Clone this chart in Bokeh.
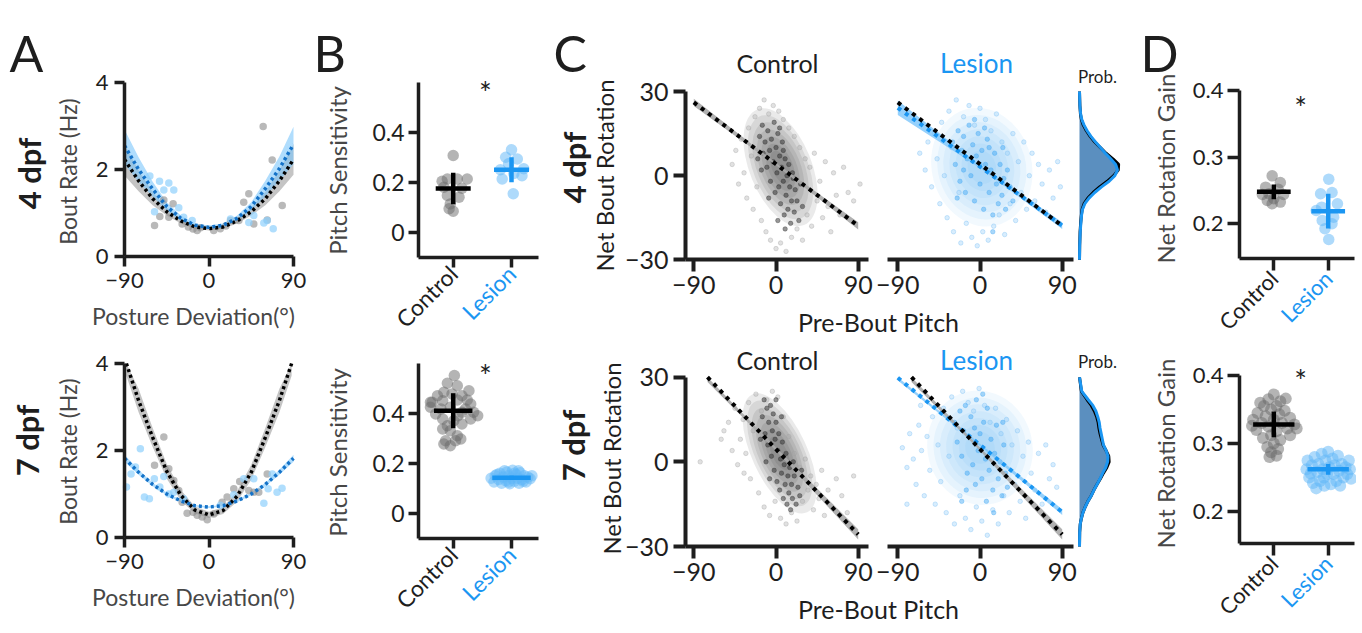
import math
from bokeh.plotting import figure
from bokeh.models import Range1d, LinearAxis, FixedTicker, Label
from bokeh.embed import file_html
from bokeh.resources import INLINE

FONT = "Lato"
INK = "#1e1e1e"
GRAYTXT = "#474747"
BLUE = "#1b96f2"
BLUE_DARK = "#1472c8"

# ------------------------------------------------------------------ data
# Panel A : bout rate vs posture deviation
pd_angles = [-90, -75, -60, -45, -30, -15, 0, 15, 30, 45, 60, 75, 90]
a4_ctrl_fit = [2.23, 1.74, 1.33, 1.03, 0.82, 0.68, 0.64, 0.68, 0.82, 1.03, 1.33, 1.74, 2.23]
a4_ctrl_lo = [1.86, 1.50, 1.18, 0.94, 0.76, 0.64, 0.60, 0.64, 0.76, 0.94, 1.18, 1.50, 1.88]
a4_ctrl_hi = [2.58, 1.98, 1.48, 1.12, 0.88, 0.72, 0.68, 0.72, 0.88, 1.12, 1.48, 1.98, 2.58]
a4_les_fit = [2.55, 2.00, 1.55, 1.15, 0.88, 0.72, 0.67, 0.72, 0.88, 1.15, 1.56, 2.02, 2.58]
a4_les_lo = [2.12, 1.72, 1.38, 1.05, 0.82, 0.68, 0.63, 0.68, 0.82, 1.05, 1.38, 1.74, 2.12]
a4_les_hi = [2.92, 2.28, 1.72, 1.25, 0.94, 0.76, 0.71, 0.76, 0.94, 1.25, 1.74, 2.30, 2.98]
a4_ctrl_x = [-58, -52.4, -48.1, -42.8, -38.2, -28.6, -22, -17, -12.6, -9, 5, 12, 18, 22.9, 31.8, 37, 42.4, 47.7, 57.7, 62, 67.3, 78]
a4_ctrl_y = [0.71, 0.92, 1.30, 0.90, 1.21, 0.75, 0.68, 0.63, 0.60, 0.66, 0.60, 0.64, 0.70, 0.83, 0.83, 1.25, 1.44, 0.75, 2.99, 0.84, 2.22, 1.17]
a4_les_x = [-63, -58, -52.7, -48.1, -42.8, -37.5, -32.2, -27, -17.9, 22.9, 42.4, 47.7, 58.4, 62, 68.4]
a4_les_y = [1.85, 1.03, 1.73, 1.53, 1.69, 1.53, 1.12, 0.90, 0.83, 0.86, 0.78, 0.94, 0.77, 0.83, 0.64]

a7_ctrl_angles = [-88, -75, -60, -45, -30, -15, 0, 15, 30, 45, 60, 75, 88]
a7_ctrl_fit = [4.0, 3.15, 2.30, 1.52, 0.97, 0.63, 0.52, 0.62, 0.95, 1.50, 2.30, 3.15, 4.0]
a7_ctrl_lo = [3.72, 2.88, 2.08, 1.35, 0.85, 0.55, 0.45, 0.54, 0.83, 1.33, 2.08, 2.88, 3.72]
a7_ctrl_hi = [4.0, 3.42, 2.52, 1.69, 1.09, 0.71, 0.59, 0.70, 1.07, 1.67, 2.52, 3.42, 4.0]
a7_les_fit = [1.82, 1.50, 1.22, 1.00, 0.84, 0.73, 0.70, 0.73, 0.84, 1.00, 1.22, 1.50, 1.82]
a7_les_lo = [1.74, 1.44, 1.18, 0.97, 0.81, 0.71, 0.68, 0.71, 0.81, 0.97, 1.18, 1.44, 1.74]
a7_les_hi = [1.90, 1.56, 1.26, 1.03, 0.87, 0.75, 0.72, 0.75, 0.87, 1.03, 1.26, 1.56, 1.90]
a7_ctrl_x = [-48.1, -58, -42.8, -37.5, -32.2, -28.6, -23.3, -17, -12.6, -7.3, -1.9, 5.1, 14, 19.3, 26.4, 32.7, 42.4, 47.7, 53, 62]
a7_ctrl_y = [2.31, 1.66, 1.58, 1.31, 1.08, 0.81, 0.56, 0.58, 0.51, 0.47, 0.41, 0.54, 0.81, 0.93, 1.12, 1.29, 1.08, 1.04, 1.04, 1.46]
a7_les_x = [-87.9, -83, -78.4, -73.1, -68.8, -63.5, -58.2, -52.4, -48.1, -42.8, -37.5, -27, 12.3, 26.4, 37, 47.7, 58.4, 63, 72.5, 77.8, 67.4]
a7_les_y = [1.16, 1.46, 1.62, 2.04, 0.93, 0.89, 1.35, 1.16, 1.40, 1.0, 1.04, 0.89, 0.74, 0.98, 1.35, 1.35, 0.79, 1.12, 1.04, 1.13, 1.46]

# Panel B : pitch sensitivity
groups = [1, 2]
group_names = ["Control", "Lesion"]
b4_ctrl_jit = [1.0, 0.81, 0.90, 1.07, 1.24, 0.84, 1.15, 0.90, 1.10, 0.95, 1.0, 0.93]
b4_ctrl_val = [0.307, 0.204, 0.213, 0.213, 0.213, 0.18, 0.176, 0.147, 0.14, 0.113, 0.084, 0.094]
b4_les_jit = [2.0, 1.90, 2.10, 1.95, 1.81, 2.21, 1.84, 2.18, 2.03, 2.04]
b4_les_val = [0.33, 0.30, 0.293, 0.274, 0.25, 0.254, 0.213, 0.226, 0.154, 0.235]
b4_mean = [0.175, 0.25]
b4_sd = [0.063, 0.05]
b7_ctrl_jit = [1.02, 0.90, 1.07, 1.27, 0.73, 0.84, 1.15, 0.64, 0.82, 1.07, 1.30, 0.61, 0.95, 1.21, 1.35, 0.70, 1.08, 0.82,
               1.01, 1.30, 0.90, 1.15, 0.95, 1.07, 0.87, 1.04, 0.95, 0.84, 1.13, 0.79, 1.24, 0.98, 0.82, 1.15, 1.42, 0.61]
b7_ctrl_val = [0.551, 0.52, 0.51, 0.49, 0.47, 0.484, 0.47, 0.444, 0.45, 0.453, 0.437, 0.424, 0.424, 0.417, 0.404, 0.397,
               0.39, 0.377, 0.37, 0.377, 0.35, 0.357, 0.33, 0.31, 0.29, 0.29, 0.27, 0.277, 0.297, 0.417, 0.453, 0.477,
               0.337, 0.404, 0.39, 0.444]
b7_les_jit = [1.65, 1.70, 1.72, 1.78, 1.80, 1.83, 1.86, 1.90, 1.92, 1.95, 1.97, 2.0, 2.02, 2.05, 2.08, 2.10, 2.13, 2.15,
              2.18, 2.22, 2.25, 2.28, 2.32, 2.35, 1.75, 1.88, 2.12, 1.95, 2.05, 2.2]
b7_les_val = [0.14, 0.125, 0.15, 0.135, 0.16, 0.12, 0.145, 0.13, 0.165, 0.15, 0.118, 0.14, 0.172, 0.128, 0.155, 0.14,
              0.12, 0.162, 0.135, 0.15, 0.125, 0.145, 0.138, 0.15, 0.155, 0.17, 0.17, 0.125, 0.16, 0.128]
b7_mean = [0.41, 0.142]
b7_sd = [0.07, 0.008]

# Panel C : net bout rotation vs pre-bout pitch
c_fit_x = [-90, 0, 90]
c4_ctrl_fit = [26.1, 4.1, -17.9]
c4_ctrl_lo = [24.8, 3.7, -19.2]
c4_ctrl_hi = [27.4, 4.5, -16.6]
c4_les_fit = [24.2, 3.2, -17.8]
c4_les_lo = [21.6, 2.7, -19.0]
c4_les_hi = [26.8, 3.7, -16.6]
c7_ctrl_fit_x = [-75, 0, 90]
c7_ctrl_fit = [30.0, 4.5, -25.7]
c7_ctrl_lo = [28.3, 3.9, -27.5]
c7_ctrl_hi = [30.0, 5.1, -23.9]
c7_les_fit = [29.8, 6.0, -17.8]
c7_les_lo = [28.8, 5.6, -18.8]
c7_les_hi = [30.0, 6.4, -16.8]

c4_ctrl_out_x = [-48, -44, -41, -38, -35, -32, -30, -27, -25, -23, -21, -18, -16, -13, -11, -8, -6, -3, 0, 3, 5, 8, 11, 14,
                 17, 20, 23, 26, 29, 32, 34, 37, 39, 42, 45, 48, 51, 54, 57, 60, 63, 66, 70, 74, 79, 85, 92]
c4_ctrl_out_y = [4, 9, -3, 13, 1, -8, 17, 7, -12, 21, -4, 24, -16, 27, -20, 22, -23, 25, -26, 23, -24, 20, -27, 17, -22,
                 14, -19, 10, -23, 6, -14, 3, -18, 8, -9, -2, -15, 5, -11, -20, 1, -7, -14, 3, -6, -9, -3]
c4_ctrl_core_x = [-18, -15, -14, -12, -10, -9, -7, -6, -5, -3, -2, -1, 0, 1, 2, 3, 4, 5, 6, 7, 8, 9, 10, 11, 12, 13, 14,
                  15, 16, 17, 18, 20, 21, 23, 25, 27, 29, -20, -16, -8, 2, 8, 4, 10, 19]
c4_ctrl_core_y = [14, 18, 8, 12, 3, 16, 9, -2, 13, 5, 19, -6, 10, 1, 15, -4, 7, -10, 3, 12, -2, -14, 6, -7, 0, -12, 4,
                  -4, -17, -9, 1, -13, -5, -9, -16, -3, -11, 6, 2, -8, -16, 9, 17, -19, -1]
c4_les_out_x = [-66, -60, -57, -53, -50, -47, -44, -42, -39, -36, -34, -31, -29, -26, -23, -21, -18, -15, -12, -9, -6, -3,
                0, 3, 6, 9, 12, 15, 18, 21, 24, 27, 30, 33, 36, 39, 42, 45, 48, 51, 54, 57, 60, 64, 68, 72, 76, 80, 85, 88]
c4_les_out_y = [8, 2, 12, -4, 15, 6, -10, 19, 0, -15, 23, 10, -20, 27, -6, -24, 21, -17, 25, -22, 18, -25, 24, -20, 20,
                -23, 16, -18, 22, -14, 12, -21, 8, -10, 15, -16, 5, -6, 12, -12, 0, 8, -9, 4, -3, -13, 2, -8, 5, -4]
c4_les_core_x = [-30, -27, -24, -22, -20, -18, -16, -14, -12, -10, -8, -6, -4, -2, 0, 2, 4, 6, 8, 10, 12, 14, 16, 18, 20,
                 22, 24, 26, 28, 30, 33, 36, -18, -6, 5, 14, 25, -25, 0, 10]
c4_les_core_y = [12, 4, 16, -2, 9, 14, -6, 6, 18, 0, 11, -9, 7, 15, -3, 9, -12, 4, 13, -6, 2, -14, 8, -3, -10, 4, -7, -1,
                 -12, 2, -4, -9, 2, 20, 17, -20, 10, -8, 4, 10]
c7_ctrl_out_x = [-83, -57, -52, -48, -45, -42, -39, -36, -33, -30, -28, -25, -22, -19, -16, -13, -10, -7, -4, -1, 2, 5, 8,
                 11, 14, 17, 20, 23, 26, 29, 32, 35, 38, 41, 44, 47, 50, 53, 57, 61, 66, 72, 78, 85, -60, -35]
c7_ctrl_out_y = [0, 11, 14, 4, 19, -1, 8, 15, 3, 21, -6, 11, 24, -11, 18, -16, 22, -19, 25, -14, 23, -20, 16, -22, 9,
                 -18, 3, -21, -2, -14, 1, -10, -5, -17, -8, -13, -3, -19, -10, -16, -6, -12, -18, -5, 8, -4]
c7_ctrl_core_x = [-15, -13, -12, -10, -9, -8, -6, -5, -4, -3, -2, -1, 0, 1, 2, 3, 4, 5, 6, 7, 8, 9, 10, 11, 12, 13, 14,
                  15, 16, 17, 18, 20, 22, 24, 26, -11, -7, 0, 6, 19, 28, -17]
c7_ctrl_core_y = [16, 22, 10, 19, 6, 14, 20, 2, 11, 17, -3, 8, 14, -7, 4, 10, -10, 1, -4, 7, -13, -1, -8, 3, -15, -5,
                  -11, -2, -17, -8, -13, -5, -15, -9, -12, 0, -6, 22, 16, 0, -3, 8]
c7_les_out_x = [-85, -80, -77, -73, -70, -67, -64, -61, -58, -55, -52, -49, -46, -43, -40, -37, -34, -31, -28, -25, -22,
                -19, -16, -13, -10, -7, -4, -1, 2, 5, 8, 11, 14, 17, 20, 23, 26, 29, 32, 35, 38, 41, 44, 47, 50, 53, 56,
                60, 64, 68, 72, 76, 80, 84, -80, -65]
c7_les_out_y = [5, -2, 10, 1, -8, 13, 4, -12, 9, -3, 16, -15, 6, -7, 19, -18, 2, 23, -22, 12, -12, 25, -20, 21, -24, 18,
                -16, 26, -21, 20, -26, 14, -17, 19, -22, 10, -12, 15, -18, 6, -8, 11, -14, 2, -20, 7, -4, -10, 3, -15, 6,
                -6, -1, -9, -15, 20]
c7_les_core_x = [-28, -25, -22, -20, -18, -16, -14, -12, -10, -8, -6, -4, -2, 0, 2, 4, 6, 8, 10, 12, 14, 16, 18, 20, 22,
                 24, 26, 28, 30, -15, -5, 7, 3, -20, 15, 25]
c7_les_core_y = [14, 7, 18, 2, 11, 20, -4, 9, 16, -1, 12, 22, 4, 10, -6, 14, 1, 19, -3, 8, -10, 3, 13, -6, 0, -12, 6, -4,
                 -9, -10, -8, -14, 24, -14, -18, 14]

dens_y = [-30, -25, -20, -17, -14, -12, -10, -8, -6, -4, -2, 0, 2, 4, 6, 8, 10, 12, 14, 16, 18, 20, 22, 25, 30]
d4_les_prob = [0, 0.005, 0.02, 0.035, 0.055, 0.08, 0.14, 0.25, 0.40, 0.58, 0.78, 0.93, 1.0, 0.95, 0.82, 0.68, 0.55,
               0.42, 0.30, 0.20, 0.12, 0.06, 0.03, 0.01, 0]
d4_ctrl_prob = [0, 0.005, 0.015, 0.03, 0.05, 0.07, 0.12, 0.22, 0.36, 0.53, 0.73, 0.90, 1.02, 1.03, 0.88, 0.70, 0.55,
                0.40, 0.28, 0.18, 0.10, 0.05, 0.025, 0.01, 0]
d7_y = [-30, -25, -22, -20, -18, -16, -14, -12, -10, -8, -6, -4, -2, 0, 2, 4, 6, 8, 10, 12, 14, 16, 18, 20, 22, 25, 30]
d7_les_prob = [0, 0.005, 0.02, 0.05, 0.09, 0.15, 0.22, 0.31, 0.38, 0.46, 0.54, 0.61, 0.69, 0.74, 0.75, 0.70, 0.63,
               0.60, 0.57, 0.54, 0.52, 0.48, 0.43, 0.35, 0.23, 0.06, 0]
d7_ctrl_prob = [0, 0.005, 0.02, 0.05, 0.09, 0.15, 0.22, 0.31, 0.38, 0.46, 0.55, 0.63, 0.72, 0.78, 0.77, 0.70, 0.62,
                0.58, 0.54, 0.51, 0.49, 0.45, 0.39, 0.31, 0.20, 0.05, 0]

# Panel D : net rotation gain
d4g_ctrl_jit = [0.97, 1.12, 0.85, 1.08, 0.91, 1.18, 0.79, 1.0, 1.12, 0.88, 0.97]
d4g_ctrl_val = [0.272, 0.262, 0.255, 0.252, 0.245, 0.244, 0.244, 0.2375, 0.2326, 0.235, 0.23]
d4g_les_jit = [2.01, 1.86, 2.07, 2.17, 1.88, 1.78, 2.10, 1.89, 2.07, 1.94, 2.01]
d4g_les_val = [0.267, 0.245, 0.247, 0.23, 0.225, 0.22, 0.21, 0.205, 0.2, 0.1925, 0.1765]
d4g_mean = [0.248, 0.219]
d4g_sd = [0.011, 0.026]
d7g_ctrl_jit = [1.0, 0.9, 1.12, 0.82, 1.05, 0.95, 1.2, 0.7, 1.1, 0.85, 1.3, 0.62, 1.0, 0.78, 1.15, 1.38, 0.9, 1.25, 0.68,
                1.05, 0.95, 1.3, 0.8, 1.12, 1.0, 0.88, 1.08, 0.95, 0.92, 1.05, 0.6, 1.42, 0.75, 1.22]
d7g_ctrl_val = [0.372, 0.365, 0.362, 0.355, 0.355, 0.35, 0.348, 0.345, 0.343, 0.34, 0.338, 0.335, 0.335, 0.33, 0.33,
                0.328, 0.325, 0.322, 0.32, 0.318, 0.312, 0.312, 0.308, 0.305, 0.3, 0.295, 0.292, 0.287, 0.28, 0.282,
                0.326, 0.322, 0.36, 0.366]
d7g_les_jit = [1.6, 1.62, 1.65, 1.7, 1.72, 1.75, 1.8, 1.82, 1.85, 1.88, 1.9, 1.93, 1.95, 1.98, 2.0, 2.02, 2.05, 2.08,
               2.1, 2.12, 2.15, 2.18, 2.2, 2.25, 2.28, 2.32, 2.35, 2.4, 2.42, 1.68, 1.78, 2.22, 2.38, 1.92]
d7g_les_val = [0.262, 0.275, 0.25, 0.268, 0.242, 0.28, 0.258, 0.27, 0.245, 0.285, 0.262, 0.238, 0.275, 0.255, 0.288,
               0.265, 0.24, 0.278, 0.255, 0.268, 0.245, 0.282, 0.26, 0.27, 0.25, 0.265, 0.255, 0.262, 0.248, 0.256,
               0.234, 0.238, 0.275, 0.25]
d7g_mean = [0.328, 0.262]
d7g_sd = [0.019, 0.008]

# ------------------------------------------------------------------ one canvas, one set of ranges per panel
W, H = 1356, 628
p = figure(width=W, height=H, x_range=Range1d(0, W), y_range=Range1d(H, 0),
           x_axis_type=None, y_axis_type=None, output_backend="svg", toolbar_location=None,
           min_border=0, min_border_left=0, min_border_right=0, min_border_top=0, min_border_bottom=0)
p.title.visible = False
p.outline_line_color = None
p.background_fill_color = "white"
p.border_fill_color = "white"

XR, YR = {}, {}
MAP = {}


def xrange_(name, px0, d0, px1, d1):
    s = (d1 - d0) / (px1 - px0)
    start = d0 - px0 * s
    XR[name] = Range1d(start, start + W * s)
    MAP[name] = (start, s)


def yrange_(name, py_top, d_top, py_bot, d_bot):
    s = (d_top - d_bot) / (py_bot - py_top)
    top = d_top + py_top * s
    YR[name] = Range1d(top - H * s, top)
    MAP[name] = (top, -s)


def at(name, px):
    start, s = MAP[name]
    return start + px * s


def put(sx, sy, txt, size, color=INK, align="center", baseline="middle", angle=0.0, bold=False):
    p.add_layout(Label(x=sx, y=sy, text=txt, text_font=FONT, text_font_size=f"{size}px", text_color=color,
                       text_align=align, text_baseline=baseline, angle=angle,
                       text_font_style="bold" if bold else "normal"))


def axis(side, xn, yn, loc, bounds, ticks, fs, tick_out, lw, standoff, overrides=None, color=INK,
         orient=None, line=True):
    ax = LinearAxis(x_range_name=xn, y_range_name=yn, fixed_location=loc, bounds=bounds,
                    ticker=FixedTicker(ticks=ticks))
    ax.axis_line_width = lw
    ax.axis_line_color = INK if line else None
    ax.major_tick_line_width = lw
    ax.major_tick_line_color = INK
    ax.major_tick_out = tick_out
    ax.major_tick_in = 0
    ax.minor_tick_line_color = None
    ax.major_label_text_font = FONT
    ax.major_label_text_font_size = f"{fs}px"
    ax.major_label_text_color = color
    ax.major_label_standoff = standoff
    if overrides:
        ax.major_label_overrides = overrides
    if orient is not None:
        ax.major_label_orientation = orient
    p.add_layout(ax, side)


# ------------------------------------------------------------------ Panel A
xrange_("Ax", 124, -90, 293, 90)
yrange_("A4y", 82, 4, 256, 0)
yrange_("A7y", 363, 4, 537, 0)


def panel_a(yn, cfx, ctrl_fit, ctrl_lo, ctrl_hi, les_fit, les_lo, les_hi, cx, cy, lx, ly):
    kw = dict(x_range_name="Ax", y_range_name=yn)
    p.varea(x=cfx, y1=ctrl_lo, y2=ctrl_hi, fill_color="#9c9c9c", fill_alpha=0.6, **kw)
    p.varea(x=pd_angles, y1=les_lo, y2=les_hi, fill_color="#7cc6fb", fill_alpha=0.6, **kw)
    p.scatter(cx, cy, size=7.5, fill_color="#8a8a8a", fill_alpha=0.6, line_color=None, **kw)
    p.scatter(lx, ly, size=7.5, fill_color="#8fd0fc", fill_alpha=0.7, line_color=None, **kw)
    p.line(cfx, ctrl_fit, line_color="black", line_width=3.5, line_dash="3 3", **kw)
    p.line(pd_angles, les_fit, line_color=BLUE_DARK, line_width=3.5, line_dash="3 3", **kw)
    axis("left", "Ax", yn, -90, (0, 4), [0, 2, 4], 22, 10, 3.5, 6)
    axis("below", "Ax", yn, 0, (-90, 90), [-90, 0, 90], 22, 10, 3.5, 6)


panel_a("A4y", pd_angles, a4_ctrl_fit, a4_ctrl_lo, a4_ctrl_hi, a4_les_fit, a4_les_lo, a4_les_hi,
        a4_ctrl_x, a4_ctrl_y, a4_les_x, a4_les_y)
panel_a("A7y", a7_ctrl_angles, a7_ctrl_fit, a7_ctrl_lo, a7_ctrl_hi, a7_les_fit, a7_les_lo, a7_les_hi,
        a7_ctrl_x, a7_ctrl_y, a7_les_x, a7_les_y)
for yc in (171, 451):
    put(67, yc, "Bout Rate (Hz)", 23, color=GRAYTXT, angle=math.pi / 2)
for yc in (315, 596):
    put(193, yc, "Posture Deviation(\u00b0)", 23, color=GRAYTXT)
put(28, 173, "4 dpf", 31, angle=math.pi / 2, bold=True)
put(26, 440, "7 dpf", 31, angle=math.pi / 2, bold=True)


# ------------------------------------------------------------------ Panels B / D (dot plots)
def cross(xn, yn, means, sds, hw, lw):
    kw = dict(x_range_name=xn, y_range_name=yn)
    cols = ["black", BLUE]
    p.segment(x0=[c - hw for c in groups], x1=[c + hw for c in groups], y0=means, y1=means,
              line_color=cols, line_width=lw, **kw)
    p.segment(x0=groups, x1=groups, y0=[m - s for m, s in zip(means, sds)],
              y1=[m + s for m, s in zip(means, sds)], line_color=cols, line_width=lw, **kw)


def dots(xn, yn, fx0, fx1, fy0, fy1, cjit, cval, ljit, lval, mean, sd, hw, yticks, yfs, tick_out, csize,
         overrides, cat_fs, cat_standoff):
    kw = dict(x_range_name=xn, y_range_name=yn)
    p.scatter(cjit, cval, size=csize, fill_color="#6a6a6a", fill_alpha=0.5, line_color=None, **kw)
    p.scatter(ljit, lval, size=csize, fill_color="#5db6f8", fill_alpha=0.5, line_color=None, **kw)
    cross(xn, yn, mean, sd, hw, 4.5)
    xl, xr_ = at(xn, fx0), at(xn, fx1)
    yt, yb = at(yn, fy0), at(yn, fy1)
    axis("left", xn, yn, xl, (yb, yt), yticks, yfs, tick_out, 3.5, 4, overrides=overrides)
    for g, name, col, line in zip(groups, group_names, [INK, BLUE], [True, False]):
        axis("below", xn, yn, yb, (xl, xr_), [g], cat_fs, tick_out, 3.5, cat_standoff,
             overrides={g: name}, color=col, orient=math.pi / 4, line=line)


xrange_("Bx", 452.7, 1, 511, 2)
yrange_("B4y", 131.7, 0.4, 231.7, 0)
yrange_("B7y", 412.7, 0.4, 512.7, 0)
b_over = {0: "0", 0.2: "0.2", 0.4: "0.4"}
dots("Bx", "B4y", 418, 538, 82, 257, b4_ctrl_jit, b4_ctrl_val, b4_les_jit, b4_les_val, b4_mean, b4_sd, 0.3,
     [0, 0.2, 0.4], 23, 10, 11.5, b_over, 23, 2)
dots("Bx", "B7y", 418, 538, 363, 538, b7_ctrl_jit, b7_ctrl_val, b7_les_jit, b7_les_val, b7_mean, b7_sd, 0.33,
     [0, 0.2, 0.4], 23, 10, 11.5, b_over, 23, 2)
for yc in (170, 452):
    put(337, yc, "Pitch Sensitivity", 24, color=GRAYTXT, angle=math.pi / 2)
put(485, 91, "*", 30)
put(485, 374, "*", 30)

xrange_("Dx", 1273.3, 1, 1327.7, 2)
yrange_("D4y", 90, 0.4, 223.3, 0.2)
yrange_("D7y", 375, 0.4, 511, 0.2)
dots("Dx", "D4y", 1239, 1354, 90, 258, d4g_ctrl_jit, d4g_ctrl_val, d4g_les_jit, d4g_les_val, d4g_mean, d4g_sd, 0.31,
     [0.2, 0.3, 0.4], 22, 12, 11.5, None, 22, 4)
dots("Dx", "D7y", 1239, 1354, 375, 543, d7g_ctrl_jit, d7g_ctrl_val, d7g_les_jit, d7g_les_val, d7g_mean, d7g_sd, 0.38,
     [0.2, 0.3, 0.4], 22, 12, 12, None, 22, 4)
for yc in (168, 453):
    put(1165, yc, "Net Rotation Gain", 24, color=GRAYTXT, angle=math.pi / 2)
put(1300, 106, "*", 30)
put(1300, 379, "*", 30)

# ------------------------------------------------------------------ Panel C
xrange_("Cl", 693.3, -90, 857.7, 90)      # control scatter
xrange_("Cr", 897.3, -90, 1061.7, 90)     # lesion scatter
xrange_("Cd", 1079, 0, 1117, 1)           # marginal density
yrange_("C4y", 91, 30, 259.3, -30)
yrange_("C7y", 376.7, 30, 546, -30)


def panel_c(yn, co_x, co_y, cc_x, cc_y, lo_x, lo_y, lc_x, lc_y, cfx, cfit, clo, chi, lfit, llo, lhi,
            dy, dctrl, dles, cores, ctrl_band_in_les):
    kl = dict(x_range_name="Cl", y_range_name=yn)
    kr = dict(x_range_name="Cr", y_range_name=yn)
    kd = dict(x_range_name="Cd", y_range_name=yn)
    (ccx, ccy, cw, ch, ca), (lcx, lcy, lw_, lh, la) = cores
    for k in (1.0, 0.88, 0.76, 0.64, 0.52, 0.40, 0.28):
        p.ellipse(x=[ccx], y=[ccy], width=[cw * k], height=[ch * k], angle=[math.radians(ca)],
                  width_units="screen", height_units="screen", fill_color="#333333", fill_alpha=0.1,
                  line_color=None, **kl)
        p.ellipse(x=[lcx], y=[lcy], width=[lw_ * k], height=[lh * k], angle=[math.radians(la)],
                  width_units="screen", height_units="screen", fill_color="#3aa5f5", fill_alpha=0.065,
                  line_color=None, **kr)
    p.scatter(co_x, co_y, size=4.5, fill_color="#a8a8a8", fill_alpha=0.35, line_color="#a0a0a0",
              line_alpha=0.5, line_width=0.7, **kl)
    p.scatter(cc_x, cc_y, size=4.5, fill_color="#2e2e2e", fill_alpha=0.5, line_color="#2e2e2e",
              line_alpha=0.5, line_width=0.7, **kl)
    p.scatter(lo_x, lo_y, size=4.5, fill_color="#8fcbf8", fill_alpha=0.35, line_color="#7cc0f5",
              line_alpha=0.55, line_width=0.7, **kr)
    p.scatter(lc_x, lc_y, size=4.5, fill_color="#3ea6f4", fill_alpha=0.45, line_color="#3ea6f4",
              line_alpha=0.5, line_width=0.7, **kr)
    # regression fits
    p.varea(x=cfx, y1=clo, y2=chi, fill_color="#a8a8a8", fill_alpha=0.9, **kl)
    p.line(cfx, cfit, line_color="black", line_width=4, line_dash="4 5", **kl)
    p.varea(x=c_fit_x, y1=llo, y2=lhi, fill_color="#7cc6fb", fill_alpha=0.8, **kr)
    if ctrl_band_in_les:
        p.varea(x=cfx, y1=clo, y2=chi, fill_color="#a8a8a8", fill_alpha=0.9, **kr)
    p.line(c_fit_x, lfit, line_color=BLUE, line_width=4, line_dash="4 5", **kr)
    p.line(cfx, cfit, line_color="black", line_width=4, line_dash="4 5", **kr)
    # marginal density of net rotation
    p.harea(y=dy, x1=0, x2=dles, fill_color="#5b8fbf", fill_alpha=1.0, **kd)
    p.line(dctrl, dy, line_color="black", line_width=3, **kd)
    p.line(dles, dy, line_color=BLUE, line_width=3, **kd)
    # axes
    xl0 = at("Cl", 685)
    axis("left", "Cl", yn, xl0, (-30, 30), [-30, 0, 30], 25, 12, 4, 5)
    axis("below", "Cl", yn, -30, (xl0, at("Cl", 868)), [-90, 0, 90], 25, 12, 4, 4)
    axis("below", "Cr", yn, -30, (at("Cr", 887), at("Cr", 1073)), [-90, 0, 90], 25, 12, 4, 4)


panel_c("C4y", c4_ctrl_out_x, c4_ctrl_out_y, c4_ctrl_core_x, c4_ctrl_core_y,
        c4_les_out_x, c4_les_out_y, c4_les_core_x, c4_les_core_y,
        c_fit_x, c4_ctrl_fit, c4_ctrl_lo, c4_ctrl_hi, c4_les_fit, c4_les_lo, c4_les_hi,
        dens_y, d4_ctrl_prob, d4_les_prob, ((5, 3, 62, 125, 22), (2, 3, 100, 120, 15)), False)
panel_c("C7y", c7_ctrl_out_x, c7_ctrl_out_y, c7_ctrl_core_x, c7_ctrl_core_y,
        c7_les_out_x, c7_les_out_y, c7_les_core_x, c7_les_core_y,
        c7_ctrl_fit_x, c7_ctrl_fit, c7_ctrl_lo, c7_ctrl_hi, c7_les_fit, c7_les_lo, c7_les_hi,
        d7_y, d7_ctrl_prob, d7_les_prob, ((4, 3, 55, 130, 25), (0, 5, 105, 115, 15)), True)

for ty in (62, 359):
    put(777, ty, "Control", 25)
    put(976, ty, "Lesion", 26, color=BLUE)
put(1097, 76, "Prob.", 17)
put(1097, 361, "Prob.", 17)
put(604, 175, "Net Bout Rotation", 24, angle=math.pi / 2)
put(611, 458, "Net Bout Rotation", 24, angle=math.pi / 2)
put(878, 321, "Pre-Bout Pitch", 25)
put(878, 608, "Pre-Bout Pitch", 25)
put(573, 167, "4 dpf", 31, angle=math.pi / 2, bold=True)
put(572, 445, "7 dpf", 31, angle=math.pi / 2, bold=True)

# panel letters
for lx, letter in ((9, "A"), (313, "B"), (553, "C"), (1140, "D")):
    put(lx, 52, letter, 50, align="left", baseline="alphabetic")

p.extra_x_ranges = XR
p.extra_y_ranges = YR

html = file_html(p, INLINE, title="Bout kinematics")
open("out.html", "w").write(html)
